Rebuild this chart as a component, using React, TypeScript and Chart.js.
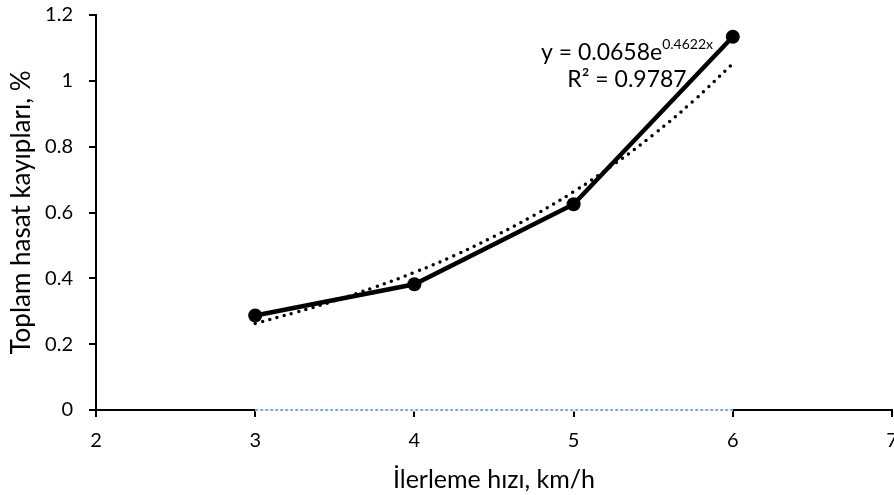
import React, { useEffect, useRef } from "react";
import { Chart, registerables } from "chart.js";

Chart.register(...registerables);

const speeds = [3, 4, 5, 6];
const losses = [0.287, 0.382, 0.625, 1.134];
const baseline = [0, 0, 0, 0];
const trendX = [3, 3.25, 3.5, 3.75, 4, 4.25, 4.5, 4.75, 5, 5.25, 5.5, 5.75, 6];
const trendY = [0.263, 0.296, 0.332, 0.373, 0.418, 0.469, 0.527, 0.591, 0.663, 0.745, 0.836, 0.938, 1.052];
const yTickValues = [0, 0.2, 0.4, 0.6, 0.8, 1, 1.2];
const yTickLabels = ["0", "0.2", "0.4", "0.6", "0.8", "1", "1.2"];
const xTickValues = [2, 3, 4, 5, 6, 7];
const xTickLabels = ["2", "3", "4", "5", "6", "7"];
const xTitle = "İlerleme hızı, km/h";
const yTitle = "Toplam hasat kayıpları, %";
const eqMain = "y = 0.0658e";
const eqExp = "0.4622x";
const eqR2 = "R² = 0.9787";

const FONT = "Lato";

const equationPlugin = {
  id: "equation",
  afterDatasetsDraw(chart: any) {
    const ctx = chart.ctx;
    const cx = 627;
    ctx.save();
    ctx.fillStyle = "#000";
    ctx.textBaseline = "alphabetic";
    ctx.textAlign = "left";
    const mainFont = `23px ${FONT}`;
    const expFont = `14px ${FONT}`;
    ctx.font = mainFont;
    const w1 = ctx.measureText(eqMain).width;
    ctx.font = expFont;
    const w2 = ctx.measureText(eqExp).width;
    const start = cx - (w1 + w2) / 2;
    ctx.font = mainFont;
    ctx.fillText(eqMain, start, 60);
    ctx.font = expFont;
    ctx.fillText(eqExp, start + w1, 49);
    ctx.font = mainFont;
    ctx.textAlign = "center";
    ctx.fillText(eqR2, cx, 87);
    ctx.restore();
  },
};

export default function App() {
  const ref = useRef<HTMLCanvasElement | null>(null);
  useEffect(() => {
    document.body.style.margin = "0";
    const canvas = ref.current!;
    const chart = new Chart(canvas, {
      type: "line",
      data: {
        datasets: [
          {
            label: "data",
            data: speeds.map((x, i) => ({ x, y: losses[i] })),
            borderColor: "#000",
            backgroundColor: "#000",
            borderWidth: 4.5,
            pointRadius: 7,
            pointBorderWidth: 0,
            pointBackgroundColor: "#000",
            tension: 0,
            clip: false,
          },
          {
            label: "trend",
            data: trendX.map((x, i) => ({ x, y: trendY[i] })),
            borderColor: "#000",
            borderWidth: 3.5,
            borderDash: [0, 7.5],
            borderCapStyle: "round",
            pointRadius: 0,
            tension: 0.4,
            clip: false,
          },
          {
            label: "zero",
            data: speeds.map((x, i) => ({ x, y: baseline[i] })),
            borderColor: "#5B8FCF",
            borderWidth: 1.5,
            borderDash: [3, 2],
            pointRadius: 0,
            clip: false,
          },
          {
            label: "zero-bg",
            data: speeds.map((x, i) => ({ x, y: baseline[i] })),
            borderColor: "#ffffff",
            borderWidth: 3,
            pointRadius: 0,
            clip: false,
          },
        ],
      },
      options: {
        animation: false,
        responsive: false,
        devicePixelRatio: 1,
        layout: { autoPadding: false, padding: { top: 15, right: 2, left: 0, bottom: 0 } },
        plugins: {
          legend: { display: false },
          tooltip: { enabled: false },
        },
        scales: {
          x: {
            type: "linear",
            min: 2,
            max: 7,
            afterBuildTicks: (s: any) => {
              s.ticks = xTickValues.map((v) => ({ value: v }));
            },
            afterFit: (s: any) => {
              s.height = 85;
              s.paddingLeft = 0;
              s.paddingRight = 0;
            },
            ticks: {
              autoSkip: false,
              maxRotation: 0,
              padding: 12,
              color: "#000",
              font: { family: FONT, size: 20 },
              callback: (v: any) => xTickLabels[xTickValues.indexOf(Number(v))] ?? "",
            },
            grid: {
              drawOnChartArea: false,
              drawTicks: true,
              tickLength: 7,
              color: "#000",
              lineWidth: 2,
            },
            border: { display: true, color: "#000", width: 2 },
            title: {
              display: true,
              text: xTitle,
              color: "#000",
              font: { family: FONT, size: 25 },
              padding: { top: 0, bottom: 0 },
            },
          },
          y: {
            type: "linear",
            min: 0,
            max: 1.2,
            afterBuildTicks: (s: any) => {
              s.ticks = yTickValues.map((v) => ({ value: v }));
            },
            afterFit: (s: any) => {
              s.width = 96;
              s.paddingTop = 0;
              s.paddingBottom = 0;
            },
            ticks: {
              padding: 16,
              color: "#000",
              font: { family: FONT, size: 20 },
              callback: (v: any) => {
                const i = yTickValues.findIndex((t) => Math.abs(t - Number(v)) < 1e-6);
                return i >= 0 ? yTickLabels[i] : "";
              },
            },
            grid: {
              drawOnChartArea: false,
              drawTicks: true,
              tickLength: 7,
              color: "#000",
              lineWidth: 2,
            },
            border: { display: true, color: "#000", width: 2 },
            title: {
              display: true,
              text: yTitle,
              color: "#000",
              font: { family: FONT, size: 26 },
              padding: { top: 6, bottom: 0 },
            },
          },
        },
      },
      plugins: [equationPlugin],
    } as any);
    return () => chart.destroy();
  }, []);
  return (
    <div style={{ position: "fixed", left: 0, top: 0, width: 894, height: 495, background: "#fff" }}>
      <canvas ref={ref} width={894} height={495} />
    </div>
  );
}
